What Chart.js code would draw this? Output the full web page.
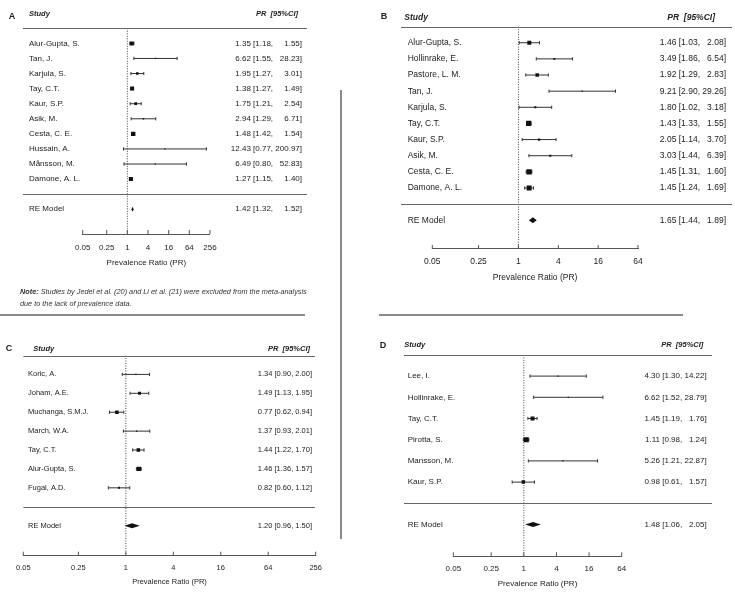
<!DOCTYPE html>
<html lang="en">
<head>
<meta charset="UTF-8">
<title>Prevalence ratio forest plots</title>
<script src="https://cdn.jsdelivr.net/npm/chart.js"></script>
<style>
  html, body { margin: 0; padding: 0; background: #fff; }
  #page { position: relative; width: 735px; height: 592px; overflow: hidden; }
  #page canvas { position: absolute; left: 0; top: 0; }
  .rule { position: absolute; background: #8a8a8a; }
  .note { position: absolute; left: 20px; font: italic 7.3px "Liberation Sans", Arial, sans-serif; color: #333; white-space: nowrap; }
</style>
</head>
<body>
<div id="page">
  <canvas id="chartA" width="735" height="592"></canvas>
  <canvas id="chartB" width="735" height="592"></canvas>
  <canvas id="chartC" width="735" height="592"></canvas>
  <canvas id="chartD" width="735" height="592"></canvas>
  <div class="rule" style="left:0;top:314px;width:305px;height:1.5px"></div>
  <div class="rule" style="left:379px;top:314px;width:304px;height:1.5px"></div>
  <div class="rule" style="left:340px;top:90px;width:1.5px;height:449px"></div>
  <div class="note" style="top:287px"><b>Note:</b> Studies by Jedel et al. (20) and Li et al. (21) were excluded from the meta-analysis</div>
  <div class="note" style="top:299px">due to the lack of prevalence data.</div>
</div>

<script>
// x axis ticks (log2 spacing)
const ticksWide = [0.05, 0.25, 1, 4, 16, 64, 256];
const ticksNarrow = [0.05, 0.25, 1, 4, 16, 64];

// Panel A
const studiesA = ['Alur-Gupta, S.', 'Tan, J.', 'Karjula, S.', 'Tay, C.T.', 'Kaur, S.P.', 'Asik, M.', 'Cesta, C. E.', 'Hussain, A.', 'Månsson, M.', 'Damone, A. L.'];
const prA = [1.35, 6.62, 1.95, 1.38, 1.75, 2.94, 1.48, 12.43, 6.49, 1.27];
const lowerA = [1.18, 1.55, 1.27, 1.27, 1.21, 1.29, 1.42, 0.77, 0.80, 1.15];
const upperA = [1.55, 28.23, 3.01, 1.49, 2.54, 6.71, 1.54, 200.97, 52.83, 1.40];
const weightA = [18.5, 1.2, 7.2, 18.5, 8.4, 2.6, 23, 0.7, 0.7, 18.5];
const pooledA = [1.42, 1.32, 1.52];

// Panel B
const studiesB = ['Alur-Gupta, S.', 'Hollinrake, E.', 'Pastore, L. M.', 'Tan, J.', 'Karjula, S.', 'Tay, C.T.', 'Kaur, S.P.', 'Asik, M.', 'Cesta, C. E.', 'Damone, A. L.'];
const prB = [1.46, 3.49, 1.92, 9.21, 1.80, 1.43, 2.05, 3.03, 1.45, 1.45];
const lowerB = [1.03, 1.86, 1.29, 2.90, 1.02, 1.33, 1.14, 1.44, 1.31, 1.24];
const upperB = [2.08, 6.54, 2.83, 29.26, 3.18, 1.55, 3.70, 6.39, 1.60, 1.69];
const weightB = [12.5, 3.1, 9.6, 0.8, 3.1, 22, 4.1, 3.1, 22, 19.6];
const pooledB = [1.65, 1.44, 1.89];

// Panel C
const studiesC = ['Koric, A.', 'Joham, A.E.', 'Muchanga, S.M.J.', 'March, W.A.', 'Tay, C.T.', 'Alur-Gupta, S.', 'Fugal, A.D.'];
const prC = [1.34, 1.49, 0.77, 1.37, 1.44, 1.46, 0.82];
const lowerC = [0.90, 1.13, 0.62, 0.93, 1.22, 1.36, 0.60];
const upperC = [2.00, 1.95, 0.94, 2.01, 1.70, 1.57, 1.12];
const weightC = [3, 15, 21, 3, 21, 31, 7];
const pooledC = [1.20, 0.96, 1.50];

// Panel D
const studiesD = ['Lee, I.', 'Hollinrake, E.', 'Tay, C.T.', 'Pirotta, S.', 'Mansson, M.', 'Kaur, S.P.'];
const prD = [4.30, 6.62, 1.45, 1.11, 5.26, 0.98];
const lowerD = [1.30, 1.52, 1.19, 0.98, 1.21, 0.61];
const upperD = [14.22, 28.79, 1.76, 1.24, 22.87, 1.57];
const weightD = [1.8, 1.2, 29, 45, 1.2, 22];
const pooledD = [1.48, 1.06, 2.05];

const W = 735, H = 592;
const ink = '#111';
const lineInk = '#333';
Chart.defaults.font.family = '"Liberation Sans", Arial, sans-serif';
Chart.defaults.color = '#222';

// page layout of each panel (pixels)
const panels = [
  { id: 'chartA', letter: 'A', studies: studiesA, pr: prA, lower: lowerA, upper: upperA, weight: weightA, pooled: pooledA, ticks: ticksWide,
    area: { left: 82.7, right: 210, top: 28.3, bottom: 234 }, yMin: -2.64,
    namesX: 29, valuesX: 302, ruleX: [23, 307], headY: 14, headL: 29, headR: 298, letterX: 12, letterY: 16.5,
    font: 8, headFont: 7.5, axisPad: 9.2, axisH: 33.8, boxK: 0.93, diamondH: 2.5 },
  { id: 'chartB', letter: 'B', studies: studiesB, pr: prB, lower: lowerB, upper: upperB, weight: weightB, pooled: pooledB, ticks: ticksNarrow,
    area: { left: 432.3, right: 638, top: 26.6, bottom: 249 }, yMin: -2.78,
    namesX: 407.7, valuesX: 726, ruleX: [401, 732], headY: 18, headL: 404.3, headR: 715, letterX: 384, letterY: 16.5,
    font: 8.5, headFont: 8.5, axisPad: 7.6, axisH: 33.8, boxK: 1.13, diamondH: 3 },
  { id: 'chartC', letter: 'C', studies: studiesC, pr: prC, lower: lowerC, upper: upperC, weight: weightC, pooled: pooledC, ticks: ticksWide,
    area: { left: 23.3, right: 315.7, top: 355.5, bottom: 555.7 }, yMin: -2.59,
    namesX: 28, valuesX: 312, ruleX: [23.3, 315], headY: 348.5, headL: 33.3, headR: 310, letterX: 9, letterY: 348.5,
    font: 7.5, headFont: 7.5, axisPad: 7.5, axisH: 31.1, boxK: 0.77, diamondH: 2.5 },
  { id: 'chartD', letter: 'D', studies: studiesD, pr: prD, lower: lowerD, upper: upperD, weight: weightD, pooled: pooledD, ticks: ticksNarrow,
    area: { left: 453.3, right: 621.7, top: 354.9, bottom: 556.3 }, yMin: -2.5,
    namesX: 407.7, valuesX: 706.7, ruleX: [404, 712], headY: 345.3, headL: 404.3, headR: 703.3, letterX: 383, letterY: 345.3,
    font: 8, headFont: 7.5, axisPad: 7.9, axisH: 32.5, boxK: 0.745, diamondH: 2.5 }
];

function fmt(v) { return v.toFixed(2); }

// header, rules, pooled diamond and upward tick marks
function decorations(p) {
  return {
    id: 'decor' + p.letter,
    afterDatasetsDraw(chart) {
      const x = chart.scales.x, y = chart.scales.yL, ctx = chart.ctx;
      const [est, lo, hi] = p.pooled;
      const yc = y.getPixelForValue(-1);
      ctx.save();
      ctx.beginPath();
      ctx.moveTo(x.getPixelForValue(lo), yc);
      ctx.lineTo(x.getPixelForValue(est), yc - p.diamondH);
      ctx.lineTo(x.getPixelForValue(hi), yc);
      ctx.lineTo(x.getPixelForValue(est), yc + p.diamondH);
      ctx.closePath();
      ctx.fillStyle = ink;
      ctx.fill();
      ctx.restore();
    },
    afterDraw(chart) {
      const x = chart.scales.x, y = chart.scales.yL, ctx = chart.ctx;
      const bottom = chart.chartArea.bottom;
      ctx.save();
      ctx.strokeStyle = '#666';
      ctx.lineWidth = 1;
      [p.studies.length + 1, 0].forEach(v => {
        const py = Math.round(y.getPixelForValue(v)) + 0.5;
        ctx.beginPath();
        ctx.moveTo(p.ruleX[0], py);
        ctx.lineTo(p.ruleX[1], py);
        ctx.stroke();
      });
      ctx.strokeStyle = '#555';
      x.ticks.forEach(t => {
        const px = x.getPixelForValue(t.value);
        ctx.beginPath();
        ctx.moveTo(px, bottom);
        ctx.lineTo(px, bottom - 4);
        ctx.stroke();
      });
      ctx.fillStyle = '#222';
      ctx.textBaseline = 'middle';
      ctx.font = 'italic bold ' + p.headFont + 'px "Liberation Sans", Arial, sans-serif';
      ctx.textAlign = 'left';
      ctx.fillText('Study', p.headL, p.headY);
      ctx.textAlign = 'right';
      ctx.fillText('PR  [95%CI]', p.headR, p.headY);
      ctx.font = 'bold 9px "Liberation Sans", Arial, sans-serif';
      ctx.textAlign = 'center';
      ctx.fillText(p.letter, p.letterX, p.letterY);
      ctx.restore();
    }
  };
}

function buildChart(p) {
  const k = p.studies.length;
  const rows = p.studies.map((_, i) => k - i);
  const tickRows = rows.concat([-1]);
  const hiWidth = Math.max(...p.upper.concat([p.pooled[2]]).map(v => fmt(v).length));
  const ci = (e, l, h) => fmt(e) + ' [' + fmt(l) + ', ' + '\u2007'.repeat(hiWidth - fmt(h).length) + fmt(h) + ']';
  const leftLabels = p.studies.concat(['RE Model']);
  const rightLabels = p.pr.map((e, i) => ci(e, p.lower[i], p.upper[i])).concat([ci(...p.pooled)]);
  const a = p.area;

  const datasets = [];
  // point estimates, box area follows weight
  datasets.push({
    data: p.pr.map((e, i) => ({ x: e, y: rows[i] })),
    pointStyle: 'rect',
    pointRadius: p.weight.map(w => Math.max(1.2, p.boxK * Math.sqrt(w)) / Math.SQRT2),
    pointBackgroundColor: ink,
    pointBorderWidth: 0
  });
  // CI end caps
  datasets.push({
    data: p.lower.map((l, i) => ({ x: l, y: rows[i] })).concat(p.upper.map((h, i) => ({ x: h, y: rows[i] }))),
    pointStyle: 'line',
    pointRotation: 90,
    pointRadius: 1.6,
    pointBorderColor: lineInk,
    pointBorderWidth: 1
  });
  // CI lines
  p.lower.forEach((l, i) => datasets.push({
    showLine: true,
    data: [{ x: l, y: rows[i] }, { x: p.upper[i], y: rows[i] }],
    borderColor: lineInk,
    borderWidth: 1,
    pointRadius: 0
  }));
  // reference line at PR = 1
  datasets.push({
    showLine: true,
    data: [{ x: 1, y: k + 1 }, { x: 1, y: p.yMin }],
    borderColor: '#444',
    borderWidth: 1,
    borderDash: [1, 1.5],
    pointRadius: 0
  });
  datasets.forEach(d => { d.yAxisID = 'yL'; });

  // zero-width row axes; tick padding is only used to shift the labels
  const yCommon = {
    type: 'linear', min: p.yMin, max: k + 1, bounds: 'data',
    afterBuildTicks: s => { s.ticks = tickRows.map(v => ({ value: v })); },
    afterFit: s => { s.width = 0; s.paddingTop = 0; s.paddingBottom = 0; },
    grid: { display: false, drawTicks: false },
    border: { display: false }
  };

  new Chart(document.getElementById(p.id), {
    type: 'scatter',
    data: { datasets },
    options: {
      responsive: false,
      animation: false,
      events: [],
      layout: {
        autoPadding: false,
        padding: { left: a.left, right: W - a.right, top: a.top, bottom: H - a.bottom - p.axisH }
      },
      plugins: { legend: { display: false }, tooltip: { enabled: false } },
      scales: {
        x: {
          type: 'logarithmic', position: 'bottom', bounds: 'data',
          min: p.ticks[0], max: p.ticks[p.ticks.length - 1],
          afterBuildTicks: s => { s.ticks = p.ticks.map(v => ({ value: v })); },
          afterFit: s => { s.height = p.axisH; },
          grid: { display: false, drawTicks: false },
          border: { display: true, color: '#555', width: 1 },
          ticks: { autoSkip: false, maxRotation: 0, padding: p.axisPad, color: '#222', font: { size: p.font }, callback: v => String(v) },
          title: { display: true, text: 'Prevalence Ratio (PR)', padding: 0, color: '#222', font: { size: p.font } }
        },
        yL: Object.assign({}, yCommon, {
          position: 'left',
          ticks: { mirror: true, padding: p.namesX - a.left, autoSkip: false, color: '#222', font: { size: p.font },
                   callback: (v, i) => leftLabels[i] }
        }),
        // mirrored right axis: labels end at scale.left + padding
        yR: Object.assign({}, yCommon, {
          position: 'right',
          ticks: { mirror: true, padding: p.valuesX - a.right, autoSkip: false, color: '#222', font: { size: p.font },
                   callback: (v, i) => rightLabels[i] }
        })
      }
    },
    plugins: [decorations(p)]
  });
}

panels.forEach(buildChart);
</script>
</body>
</html>
